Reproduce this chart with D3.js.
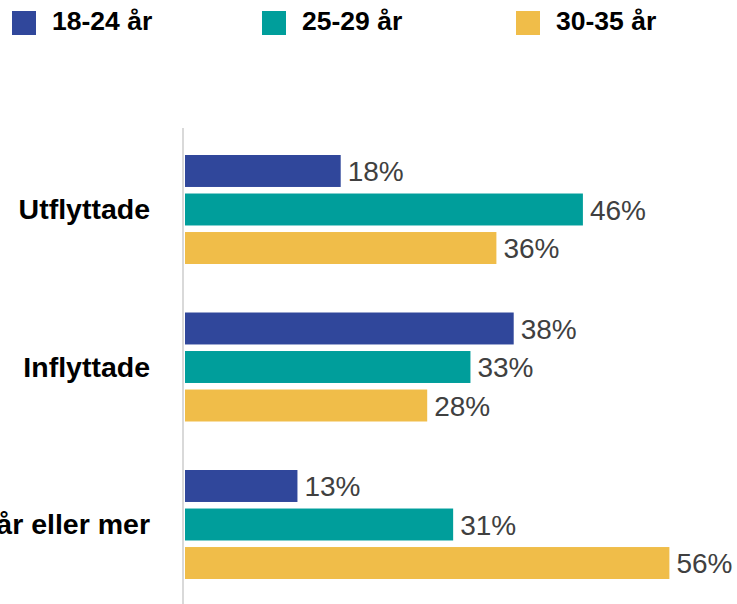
<!DOCTYPE html>
<html>
<head>
<meta charset="utf-8">
<script src="https://cdn.jsdelivr.net/npm/d3@7"></script>
<style>
  body { margin: 0; background: #fff; }
  svg { display: block; font-family: Arial, "Liberation Sans", sans-serif; }
</style>
</head>
<body>
<script>
const categories = ["Utflyttade", "Inflyttade", "Bofasta 10 år eller mer"];
const seriesNames = ["18-24 år", "25-29 år", "30-35 år"];
const seriesColors = ["#30479b", "#009e9b", "#f0bd49"];
const values18_24 = [18, 38, 13];
const values25_29 = [46, 33, 31];
const values30_35 = [36, 28, 56];
const allValues = [values18_24, values25_29, values30_35];

document.addEventListener("DOMContentLoaded", function () {
    var svg = d3.select("body").append("svg")
      .attr("width", 737)
      .attr("height", 604)
      .attr("viewBox", "0 0 737 604");

    const x = d3.scaleLinear().domain([0, 60]).range([185, 704]);

    const y0 = d3.scaleBand()
      .domain(categories)
      .range([155, 579])
      .paddingInner(0.308)
      .paddingOuter(0);

    const y1 = d3.scaleBand()
      .domain(seriesNames)
      .range([0, y0.bandwidth()])
      .paddingInner(0.17)
      .paddingOuter(0);

    // legend
    const legendX = [12, 262, 516];
    const legend = svg.append("g");
    seriesNames.forEach(function (name, i) {
        legend.append("rect")
          .attr("x", legendX[i])
          .attr("y", 11)
          .attr("width", 24)
          .attr("height", 24)
          .attr("fill", seriesColors[i]);
        legend.append("text")
          .attr("x", legendX[i] + 40)
          .attr("y", 30)
          .attr("font-size", 26.5)
          .attr("font-weight", "bold")
          .attr("fill", "#000")
          .text(name);
    });

    // axis line
    svg.append("line")
      .attr("x1", 183)
      .attr("x2", 183)
      .attr("y1", 128)
      .attr("y2", 604)
      .attr("stroke", "#d9d9d9")
      .attr("stroke-width", 2);

    const groups = svg.selectAll("g.cat")
      .data(categories)
      .enter().append("g")
      .attr("class", "cat")
      .attr("transform", d => "translate(0," + y0(d) + ")");

    // the last label runs off the left edge, as in the original
    groups.append("text")
      .attr("x", 150)
      .attr("y", y0.bandwidth() / 2)
      .attr("dy", "0.35em")
      .attr("text-anchor", "end")
      .attr("font-size", 28.5)
      .attr("font-weight", "bold")
      .attr("fill", "#000")
      .text(d => d);

    groups.each(function (cat, ci) {
        const g = d3.select(this);
        seriesNames.forEach(function (s, si) {
            const v = allValues[si][ci];
            g.append("rect")
              .attr("x", x(0))
              .attr("y", y1(s))
              .attr("width", x(v) - x(0))
              .attr("height", y1.bandwidth())
              .attr("fill", seriesColors[si]);
            g.append("text")
              .attr("x", x(v) + 7)
              .attr("y", y1(s) + y1.bandwidth() / 2)
              .attr("dy", "0.36em")
              .attr("font-size", 28)
              .attr("fill", "#404040")
              .text(v + "%");
        });
    });
});
</script>
</body>
</html>
